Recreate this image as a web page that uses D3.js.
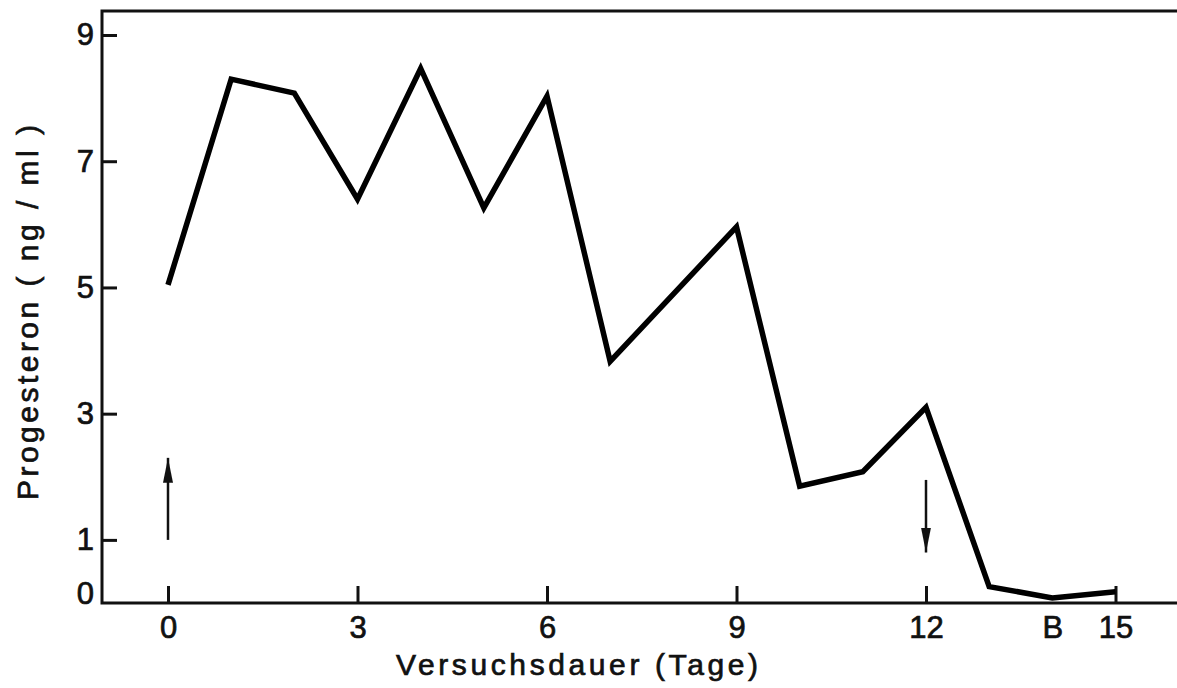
<!DOCTYPE html>
<html>
<head>
<meta charset="utf-8">
<script src="https://cdn.jsdelivr.net/npm/d3@7"></script>
<style>
  html, body { margin: 0; padding: 0; background: #fff; }
  svg { display: block; }
  text { font-family: "Liberation Sans", Arial, Helvetica, sans-serif; fill: #111; stroke: #111; stroke-width: 0.7px; }
</style>
</head>
<body>
<div id="chart"></div>
<script>
// Progesteron-Verlauf
const days = [0, 1, 2, 3, 4, 5, 6, 7, 9, 10, 11, 12, 13, 14, 15]
const progesteron = [5.04, 8.30, 8.08, 6.40, 8.47, 6.26, 8.03, 3.83, 5.96, 1.85, 2.08, 3.10, 0.26, 0.08, 0.18]

const xTicks = [0, 3, 6, 9, 12, 14, 15]
const xTickLabels = ['0', '3', '6', '9', '12', 'B', '15']
const yTicks = [9, 7, 5, 3, 1, 0]

// Pfeile: Beginn / Ende der Behandlung
const arrowDays = [0, 12]
const arrowFrom = [1.0, 1.95]
const arrowTo = [2.3, 0.8]

const width = 1177
const height = 688
const margin = {left: 102, top: 11, bottom: 603}

const svg = d3.select('#chart').append('svg')
  .attr('width', width)
  .attr('height', height)

const x = d3.scaleLinear().domain([0, 15]).range([168, 1115.5])
const y = d3.scaleLinear().domain([0, 9]).range([margin.bottom, 35])

// frame: left, top, bottom
svg.append('path')
  .attr('d', 'M' + width + ',' + margin.top + 'H' + margin.left + 'V' + margin.bottom + 'H' + width)
  .attr('stroke', '#111')
  .attr('stroke-width', 3)
  .attr('fill', 'none')

// y axis
const yAxis = svg.append('g')
  .attr('transform', 'translate(' + margin.left + ',0)')
  .call(d3.axisLeft(y).tickValues(yTicks).tickSize(-15).tickPadding(8).tickFormat(d3.format('d')))
yAxis.select('.domain').remove()
yAxis.selectAll('.tick line').attr('stroke', '#111').attr('stroke-width', 3)
  .filter(d => d === 0).remove()
yAxis.selectAll('.tick text')
  .style('font-size', '31px')
  .attr('fill', '#111')
  .filter(d => d === 0).attr('y', -9)

// x axis
const xAxis = svg.append('g')
  .attr('transform', 'translate(0,' + margin.bottom + ')')
  .call(d3.axisBottom(x).tickValues(xTicks).tickSize(-17).tickPadding(13)
    .tickFormat(d => xTickLabels[xTicks.indexOf(d)]))
xAxis.select('.domain').remove()
xAxis.selectAll('.tick line').attr('stroke', '#111').attr('stroke-width', 3)
  .filter(d => d === 14).remove()
xAxis.selectAll('.tick text')
  .style('font-size', '31px')
  .attr('fill', '#111')

// axis titles
svg.append('text')
  .attr('x', 396)
  .attr('y', 675)
  .attr('textLength', 362)
  .attr('lengthAdjust', 'spacing')
  .style('font-size', '30px')
  .text('Versuchsdauer (Tage)')

svg.append('text')
  .attr('transform', 'translate(38,500) rotate(-90)')
  .attr('textLength', 375)
  .attr('lengthAdjust', 'spacing')
  .style('font-size', '30px')
  .text('Progesteron ( ng / ml )')

// arrows
svg.append('defs').append('marker')
  .attr('id', 'head')
  .attr('viewBox', '0 0 25 10')
  .attr('refX', 25)
  .attr('refY', 5)
  .attr('markerUnits', 'userSpaceOnUse')
  .attr('markerWidth', 25)
  .attr('markerHeight', 10)
  .attr('orient', 'auto')
  .append('path')
  .attr('d', 'M0,0L25,5L0,10Z')
  .attr('fill', '#111')

svg.append('g').selectAll('line')
  .data(arrowDays)
  .enter().append('line')
  .attr('x1', d => x(d))
  .attr('x2', d => x(d))
  .attr('y1', (d, i) => y(arrowFrom[i]))
  .attr('y2', (d, i) => y(arrowTo[i]))
  .attr('stroke', '#111')
  .attr('stroke-width', 2.5)
  .attr('marker-end', 'url(#head)')

// data line
const line = d3.line()
  .x((d, i) => x(days[i]))
  .y(d => y(d))

svg.append('path')
  .datum(progesteron)
  .attr('d', line)
  .attr('fill', 'none')
  .attr('stroke', '#000')
  .attr('stroke-width', 5.5)
  .attr('stroke-linejoin', 'miter')
  .attr('stroke-miterlimit', 3)
</script>
</body>
</html>
